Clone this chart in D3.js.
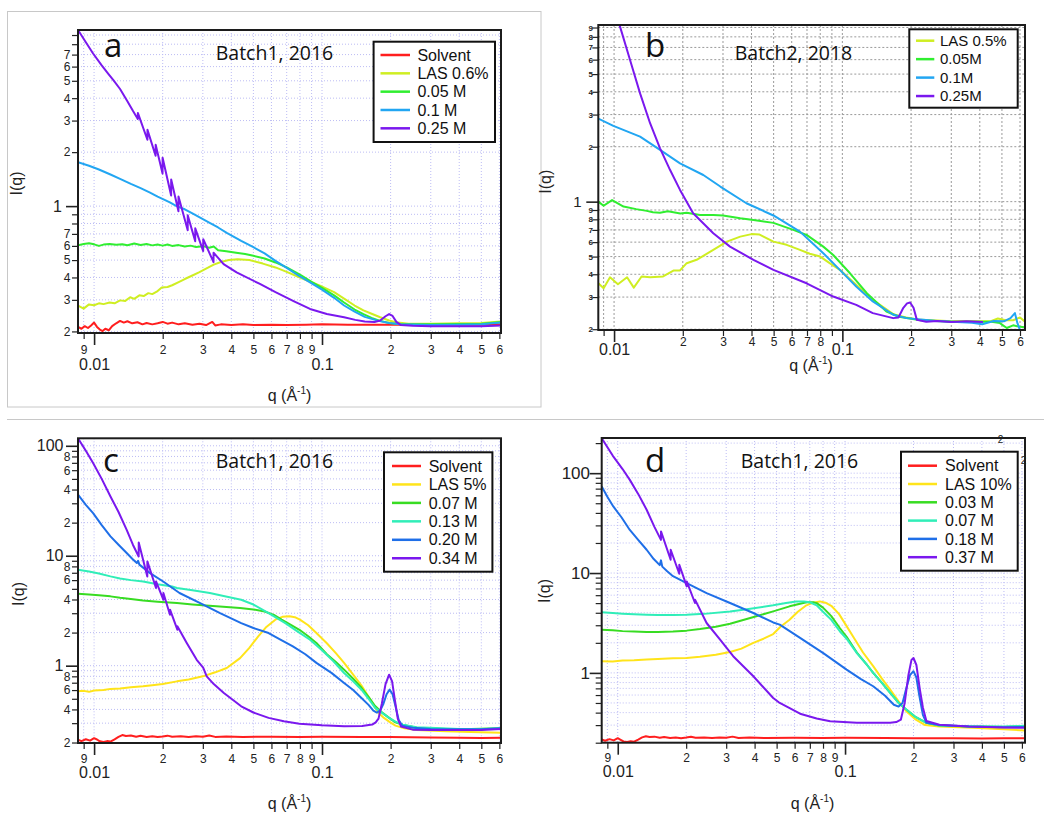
<!DOCTYPE html>
<html><head><meta charset="utf-8">
<script src="https://cdn.jsdelivr.net/npm/d3@7"></script>
<style>body{margin:0;background:#fff}svg{display:block}</style>
</head><body>
<svg id="chart" width="1044" height="818"></svg>
<script>
// ---------------- DATA ----------------
const xTickVals = [0.009,0.01,0.02,0.03,0.04,0.05,0.06,0.07,0.08,0.09,0.1,0.2,0.3,0.4,0.5,0.6];
const xTickLabels = ["9","0.01","2","3","4","5","6","7","8","9","0.1","2","3","4","5","6"];
const xTickLabelsB = ["","0.01","2","3","4","5","6","7","8","","0.1","2","3","4","5","6"];

const abYTickVals = [0.2,0.3,0.4,0.5,0.6,0.7,0.8,0.9,1,2,3,4,5,6,7,8,9];
const aYTickLabels = ["2","3","4","5","6","7","","","1","2","3","4","5","6","7","",""];
const bYTickLabels = ["2","3","4","5","6","7","8","9","1","2","3","4","5","6","7","8","9"];
const cYTickVals = [0.2,0.3,0.4,0.5,0.6,0.7,0.8,0.9,1,2,3,4,5,6,7,8,9,10,20,30,40,50,60,70,80,90,100];
const cYTickLabels = ["2","","4","","6","","8","","1","2","","4","","6","","8","","10","2","","4","","6","","8","","100"];
const dYTickVals = [0.2,0.3,0.4,0.5,0.6,0.7,0.8,0.9,1,2,3,4,5,6,7,8,9,10,20,30,40,50,60,70,80,90,100,200];
const dYTickLabels = ["","","","","","","","","1","","","","","","","","","10","","","","","","","","","100",""];

const aNames = ["Solvent","LAS 0.6%","0.05 M","0.1 M","0.25 M"];
const bNames = ["LAS 0.5%","0.05M","0.1M","0.25M"];
const cNames = ["Solvent","LAS 5%","0.07 M","0.13 M","0.20 M","0.34 M"];
const dNames = ["Solvent","LAS 10%","0.03 M","0.07 M","0.18 M","0.37 M"];

// Panel a  [q, I]
const aSolvent = [[0.0085,0.212],[0.0088,0.207],[0.0091,0.214],[0.0094,0.209],[0.0097,0.216],[0.01,0.224],[0.0103,0.212],[0.0106,0.205],[0.0109,0.201],[0.0112,0.207],[0.0116,0.203],[0.012,0.214],[0.0125,0.222],[0.013,0.229],[0.0135,0.224],[0.014,0.228],[0.0147,0.222],[0.0155,0.225],[0.0163,0.219],[0.017,0.223],[0.018,0.219],[0.019,0.222],[0.02,0.226],[0.021,0.221],[0.022,0.224],[0.0235,0.219],[0.025,0.222],[0.027,0.218],[0.029,0.221],[0.031,0.217],[0.033,0.226],[0.034,0.216],[0.036,0.219],[0.04,0.217],[0.045,0.219],[0.05,0.217],[0.06,0.218],[0.07,0.217],[0.085,0.218],[0.1,0.219],[0.13,0.218],[0.17,0.218],[0.22,0.218],[0.3,0.218],[0.4,0.218],[0.5,0.218],[0.61,0.219]];
const aLas = [[0.0085,0.279],[0.009,0.268],[0.0095,0.283],[0.01,0.28],[0.0105,0.287],[0.011,0.284],[0.0117,0.29],[0.0123,0.287],[0.013,0.298],[0.0137,0.296],[0.0144,0.31],[0.015,0.304],[0.0158,0.318],[0.0165,0.315],[0.0173,0.327],[0.018,0.323],[0.019,0.336],[0.0198,0.352],[0.021,0.354],[0.022,0.362],[0.0235,0.377],[0.025,0.392],[0.027,0.41],[0.029,0.428],[0.031,0.448],[0.0335,0.472],[0.036,0.488],[0.039,0.5],[0.0426,0.506],[0.048,0.5],[0.055,0.478],[0.0625,0.455],[0.07,0.43],[0.08,0.40],[0.09,0.376],[0.098,0.36],[0.113,0.331],[0.125,0.305],[0.139,0.279],[0.152,0.262],[0.165,0.251],[0.18,0.24],[0.197,0.23],[0.215,0.224],[0.24,0.221],[0.3,0.221],[0.4,0.222],[0.5,0.223],[0.61,0.227]];
const aM005 = [[0.0085,0.605],[0.009,0.615],[0.0095,0.62],[0.01,0.612],[0.0105,0.6],[0.011,0.61],[0.0117,0.614],[0.0125,0.608],[0.0133,0.613],[0.014,0.605],[0.015,0.618],[0.016,0.607],[0.017,0.614],[0.018,0.604],[0.019,0.61],[0.02,0.602],[0.021,0.611],[0.022,0.6],[0.0235,0.606],[0.025,0.596],[0.0265,0.602],[0.028,0.592],[0.03,0.598],[0.032,0.586],[0.0335,0.595],[0.035,0.568],[0.038,0.56],[0.042,0.55],[0.046,0.54],[0.05,0.528],[0.056,0.51],[0.0625,0.485],[0.07,0.455],[0.08,0.415],[0.09,0.378],[0.1,0.35],[0.113,0.318],[0.125,0.29],[0.139,0.265],[0.152,0.25],[0.165,0.238],[0.18,0.229],[0.197,0.223],[0.22,0.219],[0.3,0.219],[0.4,0.22],[0.5,0.221],[0.61,0.226]];
const aM01 = [[0.0085,1.76],[0.0095,1.68],[0.0105,1.6],[0.0118,1.5],[0.013,1.42],[0.0145,1.33],[0.016,1.26],[0.0176,1.19],[0.019,1.13],[0.0205,1.08],[0.0215,1.05],[0.023,1.0],[0.025,0.96],[0.027,0.91],[0.0292,0.862],[0.032,0.81],[0.035,0.76],[0.0382,0.71],[0.0442,0.64],[0.05,0.59],[0.056,0.545],[0.0625,0.495],[0.07,0.452],[0.08,0.405],[0.0886,0.376],[0.1,0.342],[0.113,0.308],[0.125,0.279],[0.139,0.258],[0.154,0.241],[0.165,0.235],[0.177,0.229],[0.197,0.223],[0.22,0.219],[0.3,0.217],[0.4,0.218],[0.5,0.219],[0.61,0.224]];
const aM025 = [[0.0085,9.6],[0.0092,8.2],[0.0099,7.1],[0.0108,6.1],[0.0115,5.5],[0.01215,5.04],[0.013,4.5],[0.014,3.85],[0.0148,3.4],[0.01555,3.064],[0.01556,3.31],[0.01714,2.344],[0.01715,2.663],[0.01862,1.91],[0.01863,2.199],[0.01997,1.518],[0.01998,1.863],[0.02178,1.146],[0.02179,1.406],[0.02345,0.935],[0.02346,1.132],[0.02575,0.733],[0.02576,0.888],[0.02778,0.637],[0.02779,0.752],[0.03011,0.561],[0.03012,0.654],[0.03342,0.487],[0.03343,0.55],[0.037,0.475],[0.0422,0.427],[0.0534,0.368],[0.0625,0.331],[0.075,0.295],[0.0886,0.267],[0.105,0.25],[0.125,0.24],[0.14,0.232],[0.154,0.227],[0.17,0.226],[0.18,0.23],[0.19,0.243],[0.197,0.25],[0.204,0.244],[0.212,0.226],[0.222,0.217],[0.25,0.215],[0.3,0.214],[0.4,0.214],[0.5,0.214],[0.61,0.216]];

// Panel b
const bLas = [[0.00853,0.357],[0.009,0.3355],[0.0096,0.385],[0.0104,0.353],[0.0114,0.385],[0.0122,0.338],[0.0132,0.389],[0.0144,0.385],[0.0164,0.389],[0.0182,0.419],[0.01945,0.42],[0.0208,0.46],[0.023,0.48],[0.0272,0.544],[0.0312,0.604],[0.0357,0.643],[0.04,0.664],[0.0434,0.66],[0.0499,0.604],[0.057,0.58],[0.0652,0.544],[0.072,0.518],[0.08,0.50],[0.088,0.46],[0.0975,0.423],[0.115,0.35],[0.136,0.29],[0.167,0.242],[0.19,0.232],[0.22,0.225],[0.26,0.223],[0.3,0.221],[0.35,0.222],[0.4,0.221],[0.45,0.222],[0.48,0.229],[0.52,0.224],[0.56,0.224],[0.6,0.232],[0.631,0.22]];
const bM005 = [[0.00853,1.0],[0.009,0.95],[0.0098,1.02],[0.011,0.94],[0.0125,0.91],[0.0139,0.89],[0.0148,0.875],[0.0159,0.87],[0.0172,0.885],[0.0182,0.875],[0.0195,0.862],[0.0208,0.87],[0.0238,0.846],[0.0272,0.846],[0.03,0.84],[0.0357,0.811],[0.0408,0.794],[0.0499,0.765],[0.061,0.70],[0.0697,0.657],[0.0825,0.567],[0.0912,0.51],[0.108,0.405],[0.128,0.315],[0.156,0.25],[0.177,0.234],[0.22,0.224],[0.3,0.22],[0.4,0.22],[0.45,0.22],[0.49,0.216],[0.525,0.203],[0.56,0.21],[0.6,0.206],[0.631,0.205]];
const bM01 = [[0.00853,2.85],[0.00993,2.6],[0.013,2.27],[0.0159,1.92],[0.01945,1.62],[0.0246,1.40],[0.0292,1.21],[0.038,0.98],[0.0499,0.84],[0.0652,0.685],[0.0825,0.522],[0.0975,0.423],[0.115,0.343],[0.136,0.284],[0.167,0.24],[0.191,0.23],[0.26,0.222],[0.37,0.217],[0.41,0.213],[0.46,0.222],[0.51,0.221],[0.545,0.23],[0.57,0.245],[0.585,0.215],[0.6,0.198],[0.61,0.185]];
const bM025 = [[0.0100,11],[0.01062,9.1],[0.01175,5.97],[0.013,3.92],[0.01438,2.69],[0.0159,1.96],[0.0176,1.49],[0.01945,1.16],[0.0222,0.864],[0.0272,0.671],[0.0322,0.567],[0.0408,0.48],[0.0499,0.423],[0.0697,0.357],[0.0912,0.302],[0.115,0.272],[0.136,0.245],[0.167,0.23],[0.176,0.232],[0.185,0.262],[0.192,0.277],[0.198,0.28],[0.205,0.262],[0.212,0.225],[0.233,0.22],[0.26,0.222],[0.3,0.219],[0.35,0.221],[0.413,0.219]];

// Panel c
const cSolvent = [[0.0085,0.212],[0.0088,0.206],[0.0092,0.214],[0.0096,0.208],[0.01,0.219],[0.0103,0.213],[0.0106,0.205],[0.011,0.202],[0.0114,0.206],[0.0118,0.204],[0.0123,0.214],[0.0128,0.225],[0.0133,0.234],[0.0138,0.229],[0.0145,0.232],[0.0153,0.226],[0.016,0.23],[0.017,0.225],[0.018,0.228],[0.019,0.224],[0.02,0.227],[0.021,0.231],[0.022,0.226],[0.024,0.228],[0.026,0.225],[0.028,0.228],[0.03,0.226],[0.032,0.232],[0.034,0.225],[0.038,0.227],[0.045,0.225],[0.06,0.226],[0.08,0.225],[0.1,0.226],[0.15,0.224],[0.2,0.224],[0.3,0.222],[0.4,0.221],[0.5,0.22],[0.61,0.221]];
const cLas = [[0.0085,0.584],[0.009,0.59],[0.0095,0.578],[0.01,0.595],[0.011,0.6],[0.0118,0.615],[0.013,0.62],[0.0145,0.635],[0.0164,0.649],[0.018,0.665],[0.02,0.68],[0.0231,0.72],[0.026,0.75],[0.03,0.80],[0.034,0.87],[0.0382,0.952],[0.0437,1.17],[0.048,1.45],[0.0525,1.85],[0.057,2.25],[0.0624,2.62],[0.067,2.78],[0.072,2.81],[0.076,2.76],[0.08,2.62],[0.087,2.33],[0.0945,1.98],[0.105,1.6],[0.115,1.3],[0.125,1.06],[0.137,0.83],[0.149,0.66],[0.163,0.49],[0.177,0.372],[0.187,0.335],[0.197,0.31],[0.21,0.285],[0.23,0.27],[0.26,0.26],[0.35,0.253],[0.45,0.249],[0.61,0.245]];
const cM007 = [[0.0085,4.51],[0.0095,4.45],[0.0105,4.38],[0.0118,4.27],[0.013,4.15],[0.0145,4.05],[0.0164,3.92],[0.019,3.82],[0.0231,3.71],[0.027,3.6],[0.031,3.52],[0.0437,3.35],[0.05,3.25],[0.056,3.11],[0.0615,2.9],[0.0665,2.62],[0.073,2.35],[0.0796,2.12],[0.087,1.85],[0.0945,1.61],[0.105,1.27],[0.115,1.08],[0.125,0.92],[0.137,0.76],[0.149,0.63],[0.16,0.52],[0.171,0.43],[0.185,0.37],[0.197,0.335],[0.21,0.305],[0.226,0.29],[0.26,0.272],[0.35,0.266],[0.45,0.265],[0.61,0.27]];
const cM013 = [[0.0085,7.46],[0.0095,7.2],[0.0105,6.9],[0.0118,6.49],[0.013,6.2],[0.0145,6.0],[0.0164,5.83],[0.019,5.5],[0.022,5.25],[0.0231,5.09],[0.027,4.85],[0.0322,4.58],[0.037,4.3],[0.0442,3.98],[0.05,3.6],[0.0583,3.01],[0.069,2.44],[0.078,2.05],[0.0886,1.72],[0.1,1.38],[0.112,1.1],[0.125,0.858],[0.137,0.72],[0.149,0.605],[0.16,0.5],[0.171,0.413],[0.184,0.37],[0.197,0.335],[0.21,0.31],[0.226,0.291],[0.26,0.275],[0.297,0.272],[0.4,0.266],[0.5,0.265],[0.61,0.27]];
const cM020 = [[0.0085,35.9],[0.0092,29],[0.0099,24.4],[0.0108,19],[0.0118,15.0],[0.0128,12.6],[0.0139,10.6],[0.0147,9.4],[0.0154,8.58],[0.0156,9.0],[0.0158,8.3],[0.0176,6.95],[0.0201,5.83],[0.0237,4.58],[0.0292,3.71],[0.0357,3.01],[0.0442,2.44],[0.05,2.2],[0.0583,1.98],[0.066,1.72],[0.0745,1.5],[0.0845,1.27],[0.0945,1.06],[0.11,0.86],[0.125,0.696],[0.137,0.6],[0.149,0.508],[0.16,0.44],[0.168,0.39],[0.174,0.375],[0.18,0.39],[0.186,0.45],[0.192,0.55],[0.198,0.605],[0.204,0.55],[0.21,0.43],[0.217,0.32],[0.225,0.285],[0.25,0.272],[0.3,0.266],[0.4,0.264],[0.5,0.264],[0.61,0.27]];
const cM034 = [[0.0085,117],[0.0092,90],[0.0099,69.6],[0.0108,50],[0.0118,34.6],[0.0128,25],[0.0139,17.2],[0.0148,12.6],[0.01569,9.85],[0.0157,13.2],[0.01712,6.48],[0.01713,8.88],[0.01869,5.09],[0.0187,5.84],[0.02013,3.98],[0.02014,4.58],[0.02153,2.91],[0.02154,3.23],[0.02319,2.125],[0.0232,2.28],[0.0255,1.61],[0.0282,1.13],[0.0301,0.96],[0.0312,0.80],[0.0335,0.68],[0.0371,0.565],[0.0442,0.427],[0.05,0.375],[0.0583,0.335],[0.068,0.312],[0.0796,0.297],[0.1,0.287],[0.125,0.281],[0.15,0.283],[0.166,0.291],[0.172,0.305],[0.177,0.33],[0.183,0.45],[0.19,0.68],[0.197,0.828],[0.203,0.72],[0.209,0.48],[0.215,0.33],[0.222,0.28],[0.25,0.262],[0.3,0.26],[0.4,0.26],[0.5,0.26],[0.61,0.265]];

// Panel d
const dSolvent = [[0.0085,0.215],[0.0088,0.209],[0.0092,0.217],[0.0096,0.211],[0.01,0.222],[0.0103,0.214],[0.0106,0.206],[0.011,0.203],[0.0114,0.207],[0.0118,0.205],[0.0123,0.215],[0.0128,0.226],[0.0133,0.232],[0.0138,0.228],[0.0145,0.23],[0.0153,0.224],[0.016,0.228],[0.017,0.223],[0.018,0.226],[0.019,0.222],[0.02,0.225],[0.021,0.229],[0.022,0.224],[0.024,0.226],[0.026,0.223],[0.028,0.226],[0.03,0.224],[0.032,0.23],[0.034,0.223],[0.038,0.225],[0.045,0.223],[0.06,0.224],[0.08,0.223],[0.1,0.224],[0.15,0.223],[0.2,0.222],[0.3,0.221],[0.4,0.22],[0.5,0.221],[0.619,0.222]];
const dLas = [[0.0085,1.31],[0.0095,1.3],[0.0105,1.33],[0.0118,1.34],[0.0134,1.36],[0.015,1.38],[0.0175,1.4],[0.0201,1.41],[0.023,1.45],[0.027,1.52],[0.0312,1.62],[0.035,1.75],[0.0395,2.0],[0.0438,2.2],[0.0483,2.45],[0.052,2.9],[0.057,3.4],[0.062,4.1],[0.0676,4.75],[0.0725,5.05],[0.0775,5.2],[0.082,5.05],[0.087,4.7],[0.094,3.9],[0.1016,2.94],[0.11,2.2],[0.12,1.6],[0.133,1.17],[0.145,0.88],[0.158,0.68],[0.172,0.52],[0.186,0.413],[0.205,0.34],[0.225,0.30],[0.26,0.29],[0.366,0.282],[0.5,0.272],[0.619,0.265]];
const dM003 = [[0.0085,2.71],[0.0095,2.68],[0.0105,2.62],[0.0118,2.6],[0.0134,2.57],[0.015,2.57],[0.0175,2.6],[0.0201,2.65],[0.023,2.75],[0.027,2.9],[0.0312,3.1],[0.035,3.35],[0.04,3.65],[0.0483,4.13],[0.057,4.64],[0.0676,5.1],[0.0725,5.1],[0.075,5.0],[0.08,4.5],[0.087,3.7],[0.095,2.8],[0.1016,2.3],[0.1127,1.6],[0.125,1.2],[0.133,1.0],[0.145,0.8],[0.158,0.63],[0.172,0.5],[0.186,0.43],[0.205,0.36],[0.228,0.316],[0.26,0.298],[0.35,0.29],[0.5,0.288],[0.619,0.292]];
const dM007 = [[0.0085,4.04],[0.0095,3.98],[0.0105,3.92],[0.0118,3.86],[0.0134,3.82],[0.015,3.8],[0.0175,3.8],[0.0201,3.82],[0.024,3.9],[0.0312,4.13],[0.037,4.35],[0.0483,4.75],[0.055,5.0],[0.061,5.2],[0.066,5.2],[0.07,5.1],[0.075,4.75],[0.08,4.1],[0.087,3.4],[0.095,2.6],[0.1016,2.2],[0.1127,1.58],[0.125,1.2],[0.133,1.0],[0.145,0.8],[0.158,0.63],[0.172,0.5],[0.186,0.43],[0.205,0.36],[0.228,0.316],[0.26,0.298],[0.35,0.292],[0.5,0.29],[0.619,0.295]];
const dM018 = [[0.0085,73.6],[0.009,58],[0.00956,46.4],[0.0104,36],[0.0113,27.0],[0.0123,21.5],[0.0134,17.1],[0.0144,13.8],[0.0153,12.0],[0.0155,13.4],[0.0157,11.6],[0.0165,10.4],[0.0175,9.3],[0.0201,7.94],[0.0246,6.3],[0.0312,5.01],[0.0395,3.98],[0.0483,3.2],[0.0516,3.04],[0.0634,2.24],[0.0802,1.58],[0.1016,1.08],[0.117,0.87],[0.133,0.735],[0.15,0.59],[0.164,0.48],[0.172,0.46],[0.179,0.5],[0.186,0.7],[0.193,0.95],[0.2,1.04],[0.206,0.9],[0.212,0.6],[0.22,0.38],[0.228,0.316],[0.26,0.3],[0.35,0.29],[0.5,0.285],[0.619,0.288]];
const dM037 = [[0.0085,224],[0.0095,150],[0.0105,110],[0.0113,85.7],[0.0123,62],[0.0134,43],[0.0145,29],[0.01549,21.5],[0.0155,26.1],[0.01709,13.6],[0.0171,17.1],[0.01865,9.84],[0.01866,12.1],[0.02011,7.35],[0.02012,8.24],[0.02187,5.01],[0.02188,5.41],[0.0246,3.16],[0.0282,2.15],[0.0322,1.47],[0.0395,0.925],[0.0483,0.56],[0.0516,0.5],[0.0634,0.39],[0.075,0.35],[0.086,0.328],[0.1127,0.316],[0.158,0.316],[0.168,0.322],[0.176,0.34],[0.183,0.5],[0.19,0.95],[0.196,1.35],[0.2,1.41],[0.206,1.2],[0.213,0.7],[0.22,0.45],[0.228,0.33],[0.26,0.303],[0.35,0.29],[0.5,0.284],[0.619,0.282]];

// ---------------- STYLE / LAYOUT ----------------
const C = {red:"#ff1e1e", lasA:"#cfee22", lasC:"#ffe41a", green:"#30ee30", green2:"#38dc22",
  sky:"#22a6f2", aqua:"#30eeb8", blue:"#1f6fe8", purple:"#7a18ee"};

const panels = [
 {key:"a", x0:78, x1:501, y0:30, y1:333, xDom:[0.0085,0.61], yDom:[0.196,9.6],
  yTicks:abYTickVals, yLabels:aYTickLabels, xLabels:xTickLabels,
  grid:"#bcbcf4", dash:"1,2", letter:"a", letterX:104, letterY:57, title:"Batch1, 2016", titleX:274.5, titleY:60,
  xMinorY:354, xMajorY:370, yMinorX:70.5, yMajorX:62, majFs:16, minFs:12, yLabX:21.5, yLabY:183.5, xLabX:289.5, xLabY:401,
  leg:{x:373.6,y:41.7,w:121.4,h:100.3,r0:55,dy:18.33,l0:380.5,l1:410,tx:417.4,fs:16},
  series:[[aNames[0],C.red,aSolvent],[aNames[1],C.lasA,aLas],[aNames[2],C.green,aM005],[aNames[3],C.sky,aM01],[aNames[4],C.purple,aM025]]},
 {key:"b", x0:598.3, x1:1025, y0:25, y1:330, xDom:[0.00853,0.631], yDom:[0.198,9.29],
  yTicks:abYTickVals, yLabels:bYTickLabels, xLabels:xTickLabelsB,
  grid:"#9a9a9a", dash:"2,2", letter:"b", letterX:645, letterY:56.7, title:"Batch2, 2018", titleX:793.5, titleY:59.5,
  xMinorY:346, xMajorY:354.5, yMinorX:593, yMajorX:581.5, majFs:15, minFs:8, yLabX:551, yLabY:181.7, xLabX:811, xLabY:371,
  leg:{x:909.3,y:29.3,w:108.4,h:78.4,r0:40.7,dy:18.45,l0:916,l1:934.3,tx:940,fs:15},
  series:[[bNames[0],C.lasA,bLas],[bNames[1],C.green,bM005],[bNames[2],C.sky,bM01],[bNames[3],C.purple,bM025]]},
 {key:"c", x0:78, x1:501, y0:438.3, y1:743, xDom:[0.0085,0.61], yDom:[0.198,117],
  yTicks:cYTickVals, yLabels:cYTickLabels, xLabels:xTickLabels,
  grid:"#bcbcf4", dash:"1,2", letter:"c", letterX:103, letterY:472, title:"Batch1, 2016", titleX:274.5, titleY:468.3,
  xMinorY:762.5, xMajorY:777.5, yMinorX:70.5, yMajorX:63.5, majFs:16, minFs:12, yLabX:23.5, yLabY:594, xLabX:289.5, xLabY:809,
  leg:{x:384,y:452.3,w:108.4,h:119.4,r0:466,dy:18.45,l0:392,l1:421,tx:428.7,fs:16},
  series:[[cNames[0],C.red,cSolvent],[cNames[1],C.lasC,cLas],[cNames[2],C.green2,cM007],[cNames[3],C.aqua,cM013],[cNames[4],C.blue,cM020],[cNames[5],C.purple,cM034]]},
 {key:"d", x0:601.7, x1:1025, y0:438, y1:742.7, xDom:[0.0085,0.619], yDom:[0.2,225],
  yTicks:dYTickVals, yLabels:dYTickLabels, xLabels:xTickLabels,
  grid:"#bcbcf4", dash:"1,2", letter:"d", letterX:645, letterY:472, title:"Batch1, 2016", titleX:799.5, titleY:467.7,
  xMinorY:762.5, xMajorY:777.5, yMinorX:590, yMajorX:590, majFs:17, minFs:12, yLabX:550, yLabY:591, xLabX:812.5, xLabY:809,
  leg:{x:901,y:451.7,w:116.7,h:119,r0:465.7,dy:18.3,l0:908,l1:937,tx:945,fs:16},
  series:[[dNames[0],C.red,dSolvent],[dNames[1],C.lasC,dLas],[dNames[2],C.green2,dM003],[dNames[3],C.aqua,dM007],[dNames[4],C.blue,dM018],[dNames[5],C.purple,dM037]]}
];

// ---------------- DRAW ----------------
const svg = d3.select("#chart");
const ARIAL = "'Liberation Sans', Arial, sans-serif";
const TFONT = "'Open Sans', 'Noto Sans', sans-serif";

// panel separators
svg.append("rect").attr("x",7.5).attr("y",11.5).attr("width",533.5).attr("height",395.5)
  .attr("fill","none").attr("stroke","#c8c8c8").attr("stroke-width",1);
svg.append("line").attr("x1",7).attr("x2",1044).attr("y1",419.5).attr("y2",419.5)
  .attr("stroke","#c8c8c8").attr("stroke-width",1);

const isMajor = v => Math.abs(Math.log10(v) - Math.round(Math.log10(v))) < 1e-9;

panels.forEach(p => {
  const g = svg.append("g");
  const x = d3.scaleLog().domain(p.xDom).range([p.x0, p.x1]);
  const y = d3.scaleLog().domain(p.yDom).range([p.y1, p.y0]);
  const clipId = "clip-" + p.key;
  svg.append("clipPath").attr("id", clipId).append("rect")
    .attr("x", p.x0).attr("y", p.y0).attr("width", p.x1 - p.x0).attr("height", p.y1 - p.y0);

  // grid
  const grid = g.append("g").attr("stroke", p.grid).attr("stroke-width", 1).attr("stroke-dasharray", p.dash);
  xTickVals.forEach(v => grid.append("line").attr("x1", x(v)).attr("x2", x(v)).attr("y1", p.y0).attr("y2", p.y1));
  p.yTicks.forEach(v => { if (y(v) >= p.y0 && y(v) <= p.y1)
    grid.append("line").attr("y1", y(v)).attr("y2", y(v)).attr("x1", p.x0).attr("x2", p.x1); });

  // x axis
  const xa = g.append("g").attr("transform", `translate(0,${p.y1})`)
    .call(d3.axisBottom(x).tickValues(xTickVals).tickSizeInner(6).tickSizeOuter(0)
      .tickFormat((d, i) => p.xLabels[i]));
  xa.select(".domain").remove();
  xa.selectAll(".tick line").attr("stroke", "#222").attr("stroke-width", 1.2);
  xa.selectAll(".tick text").attr("dy", 0).attr("font-family", ARIAL).attr("fill", "#222");
  xa.selectAll(".tick").each(function(d) {
    const t = d3.select(this);
    if (isMajor(d)) {
      t.select("line").attr("y2", 12).attr("stroke-width", 1.6);
      t.select("text").attr("y", p.xMajorY - p.y1).attr("font-size", 16);
    } else {
      t.select("text").attr("y", p.xMinorY - p.y1).attr("font-size", 12);
    }
  });

  // y axis
  const ya = g.append("g").attr("transform", `translate(${p.x0},0)`)
    .call(d3.axisLeft(y).tickValues(p.yTicks).tickSizeInner(6).tickSizeOuter(0)
      .tickFormat((d, i) => p.yLabels[i]));
  ya.select(".domain").remove();
  ya.selectAll(".tick line").attr("stroke", "#222").attr("stroke-width", 1.2);
  ya.selectAll(".tick text").attr("font-family", ARIAL).attr("fill", "#222");
  ya.selectAll(".tick").each(function(d) {
    const t = d3.select(this);
    if (isMajor(d)) {
      t.select("line").attr("x2", -12).attr("stroke-width", 1.6);
      t.select("text").attr("x", p.yMajorX - p.x0).attr("font-size", p.majFs);
    } else {
      t.select("text").attr("x", p.yMinorX - p.x0).attr("font-size", p.minFs)
        .attr("font-weight", p.minFs < 10 ? "bold" : null);
    }
  });

  // data lines
  const line = d3.line().x(d => x(d[0])).y(d => y(d[1]));
  const lg = g.append("g").attr("clip-path", `url(#${clipId})`);
  p.series.forEach(s => {
    lg.append("path").datum(s[2]).attr("d", line).attr("fill", "none")
      .attr("stroke", s[1]).attr("stroke-width", 2).attr("stroke-linejoin", "round");
  });

  // frame
  g.append("rect").attr("x", p.x0).attr("y", p.y0).attr("width", p.x1 - p.x0).attr("height", p.y1 - p.y0)
    .attr("fill", "none").attr("stroke", "#1c1c1c").attr("stroke-width", 2);

  // letter + title
  g.append("text").attr("x", p.letterX).attr("y", p.letterY).text(p.letter)
    .attr("font-family", TFONT).attr("font-size", 33).attr("fill", "#111");
  g.append("text").attr("x", p.titleX).attr("y", p.titleY).attr("text-anchor", "middle").text(p.title)
    .attr("font-family", TFONT).attr("font-size", 19.5).attr("fill", "#111");

  // axis labels
  g.append("text").attr("transform", `translate(${p.yLabX},${p.yLabY}) rotate(-90)`)
    .attr("text-anchor", "middle").attr("font-family", ARIAL).attr("font-size", 16).attr("fill", "#222").text("I(q)");
  const xl = g.append("text").attr("x", p.xLabX).attr("y", p.xLabY).attr("text-anchor", "middle")
    .attr("font-family", ARIAL).attr("font-size", 16).attr("fill", "#222");
  xl.append("tspan").text("q (Å");
  xl.append("tspan").attr("dy", -7).attr("font-size", 10).text("-1");
  xl.append("tspan").attr("dy", 7).text(")");

  // legend
  const L = p.leg;
  const lgd = g.append("g");
  lgd.append("rect").attr("x", L.x).attr("y", L.y).attr("width", L.w).attr("height", L.h)
    .attr("fill", "#fff").attr("stroke", "#111").attr("stroke-width", 2);
  p.series.forEach((s, i) => {
    const cy = L.r0 + i * L.dy;
    lgd.append("line").attr("x1", L.l0).attr("x2", L.l1).attr("y1", cy).attr("y2", cy)
      .attr("stroke", s[1]).attr("stroke-width", 2.5);
    lgd.append("text").attr("x", L.tx).attr("y", cy).attr("dy", "0.35em").text(s[0])
      .attr("font-family", ARIAL).attr("font-size", L.fs).attr("fill", "#111");
  });
});

// stray superscript marks present in panel d of the original
svg.append("text").attr("x", 1000.5).attr("y", 443).attr("text-anchor", "middle")
  .attr("font-family", ARIAL).attr("font-size", 10).attr("fill", "#222").text("2");
svg.append("text").attr("x", 1023.5).attr("y", 464).attr("text-anchor", "middle")
  .attr("font-family", ARIAL).attr("font-size", 10).attr("fill", "#222").text("2");
</script>
</body></html>
